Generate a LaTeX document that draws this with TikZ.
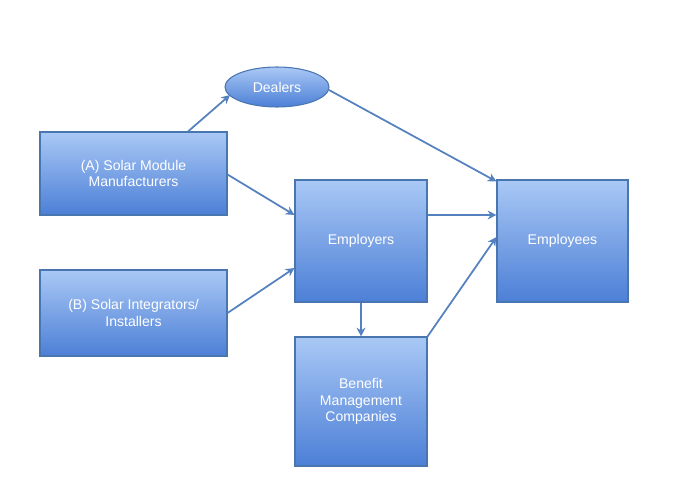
\documentclass[tikz,border=0pt]{standalone}
\usepackage{fontspec}
\setmainfont{Liberation Sans}
\usetikzlibrary{calc,shapes.geometric,arrows.meta}
\definecolor{boxtop}{HTML}{A9C8F5}
\definecolor{boxbot}{HTML}{4C7FD6}
\definecolor{boxline}{HTML}{4A76B0}
\definecolor{arrowcol}{HTML}{5581BE}
\tikzset{
  unitbox/.style={draw=boxline, line width=0.6pt, top color=boxtop, bottom color=boxbot,
    text=white, font=\fontsize{8}{9.5}\selectfont, align=center, inner sep=0pt},
  flow/.style={-{Stealth[length=5pt,width=5pt]}, draw=arrowcol, line width=1pt}
}
\begin{document}
\begin{tikzpicture}[x=0.02cm,y=-0.02cm]
            \useasboundingbox (0,0) rectangle (700,500);
            \node[unitbox, minimum width=187*0.02cm, minimum height=83*0.02cm] (modules) at (133.5,173.5) {(A) Solar Module\\Manufacturers};
            \node[unitbox, minimum width=187*0.02cm, minimum height=86*0.02cm] (installers) at (133.5,313) {(B) Solar Integrators/\\Installers};
            \node[unitbox, ellipse, minimum width=104*0.02cm, minimum height=40*0.02cm] (dealers) at (277,87) {Dealers};
            \node[unitbox, minimum width=132*0.02cm, minimum height=122*0.02cm] (employers) at (361,241) {Employers};
            \node[unitbox, minimum width=131*0.02cm, minimum height=122*0.02cm] (employees) at (562.5,241) {Employees};
            \node[unitbox, minimum width=132*0.02cm, minimum height=129*0.02cm] (benefit) at (361,401.5) {Benefit\\Management\\Companies};

            \draw[flow] ($(modules.north west)!0.79!(modules.north east)$) -- ($(dealers.center)+(-47,8)$);
            \draw[flow] ($(dealers.center)+(52,3)$) -- ($(employees.north west)+(0,2)$);
            \draw[flow] ($(modules.east)+(0,1)$) -- ($(employers.west)+(0,-26)$);
            \draw[flow] ($(installers.east)+(0,0)$) -- ($(employers.west)+(0,27)$);
            \draw[flow] ($(employers.east)+(0,-26)$) -- ($(employees.west)+(0,-26)$);
            \draw[flow] (employers.south) -- (benefit.north);
            \draw[flow] (benefit.north east) -- ($(employees.west)+(0,-4)$);
\end{tikzpicture}
\end{document}
